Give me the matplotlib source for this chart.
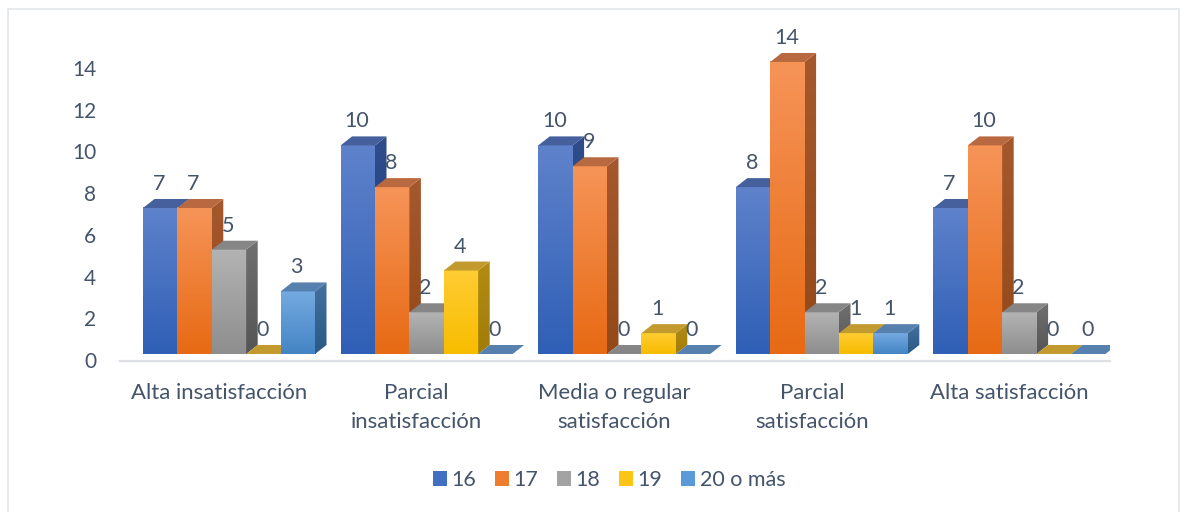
import numpy as np
import matplotlib
matplotlib.use('Agg')
import matplotlib.pyplot as plt
from matplotlib.patches import Polygon, Rectangle
from matplotlib.transforms import ScaledTranslation

plt.rcParams['font.family'] = ['Lato', 'DejaVu Sans']

# Data
categories = ['Alta insatisfacción', 'Parcial\ninsatisfacción', 'Media o regular\nsatisfacción',
              'Parcial\nsatisfacción', 'Alta satisfacción']
series_names = ['16', '17', '18', '19', '20 o más']
v16 = [7, 10, 10, 8, 7]
v17 = [7, 8, 9, 14, 10]
v18 = [5, 2, 0, 2, 2]
v19 = [0, 4, 1, 1, 0]
v20 = [3, 0, 0, 1, 0]
y_ticks = [0, 2, 4, 6, 8, 10, 12, 14]

# Colours: front top, front bottom, side top, side bottom, top face, legend
palette = [
    ('#5f82cb', '#2f5fb6', '#2f4d8c', '#1f3d75', '#45609c', '#4270c0'),
    ('#f69458', '#e76a14', '#a5582c', '#93491a', '#b9693f', '#ef7d30'),
    ('#b3b3b3', '#8e8e8e', '#707070', '#555555', '#868686', '#a3a3a3'),
    ('#ffcc33', '#f7bd00', '#b28c14', '#a07c08', '#c29a2e', '#fcc414'),
    ('#74aae1', '#4484c4', '#44709e', '#2a5a86', '#5680ad', '#5b9ad6'),
]
text_color = '#44546a'

W, H, DPI = 1191, 512, 100
PX_X = 197.6   # pixels per category
PX_Y = 20.86   # pixels per unit
BAR_W = 34.4 / PX_X
DX = 11.5 / PX_X
DY = 9 / PX_Y
START = -77 / PX_X


def gradient(ax, c_top, c_bottom, extent, clip=None):
    top = np.array(matplotlib.colors.to_rgb(c_top))
    bottom = np.array(matplotlib.colors.to_rgb(c_bottom))
    t = np.linspace(0, 1, 64)[:, None, None]
    img = top[None, None, :] * (1 - t) + bottom[None, None, :] * t
    im = ax.imshow(img, extent=extent, aspect='auto', interpolation='bilinear', zorder=2)
    if clip is not None:
        im.set_clip_path(clip)


def draw_bar(ax, x, h, colors):
    front_top, front_bot, side_top, side_bot, top_face = colors[:5]
    r = x + BAR_W
    if h > 0:
        gradient(ax, front_top, front_bot, (x, r, 0, h))
        side = Polygon([(r, 0), (r + DX, DY), (r + DX, h + DY), (r, h)], closed=True,
                       transform=ax.transData, fc='none', ec='none')
        ax.add_patch(side)
        gradient(ax, side_top, side_bot, (r, r + DX, 0, h + DY), clip=side)
    ax.add_patch(Polygon([(x, h), (x + DX, h + DY), (r + DX, h + DY), (r, h)], closed=True,
                         fc=top_face, ec='none', zorder=2))
    ax.annotate(str(h), (x + BAR_W / 2, h), xytext=(-1, 24), textcoords='offset pixels',
                ha='center', va='center', fontsize=15.5, color=text_color, zorder=5)


fig = plt.figure(figsize=(W / DPI, H / DPI), dpi=DPI)
ax = fig.add_axes([120 / W, (H - 354) / H, 990 / W, 334 / H])

all_series = [v16, v17, v18, v19, v20]
for i in range(len(categories)):
    for j, values in enumerate(all_series):
        draw_bar(ax, i + START + j * BAR_W, values[i], palette[j])

ax.set_xlim(-100 / PX_X, 890 / PX_X)
ax.set_ylim(0, 334 / PX_Y)
ax.set_xticks(range(len(categories)))
ax.set_xticklabels([])
ax.set_yticks(y_ticks)
ax.set_yticklabels([str(t) for t in y_ticks])
ax.tick_params(axis='both', length=0, labelsize=15, labelcolor=text_color)
ax.tick_params(axis='y', pad=17)

# category labels need their own line spacing
for i, cat in enumerate(categories):
    ax.annotate(cat, (i, 0), xytext=(-1, -29), textcoords='offset pixels', ha='center', va='top',
                fontsize=15.9, linespacing=1.55, color=text_color, annotation_clip=False)

# value axis labels sit 7 px lower than the bar fronts
shift = ScaledTranslation(0, -6 / DPI, fig.dpi_scale_trans)
for lab in ax.get_yticklabels():
    lab.set_transform(lab.get_transform() + shift)

for name in ['top', 'left', 'right']:
    ax.spines[name].set_visible(False)
ax.spines['bottom'].set_position(('outward', 7 * 72 / DPI))
ax.spines['bottom'].set_color('#dde1e6')
ax.spines['bottom'].set_linewidth(1.6)
ax.patch.set_alpha(0)

handles = [Rectangle((0, 0), 1, 1, fc=c[5], ec='none') for c in palette]
fig.legend(handles, series_names, loc='center', bbox_to_anchor=(609 / W, 1 - 480 / H), ncol=5,
           frameon=False, fontsize=15.5, labelcolor=text_color, handlelength=0.68, handleheight=0.68,
           handletextpad=0.2, columnspacing=0.85)

# chart frame
fig.add_artist(Rectangle((8 / W, -0.02), 1171 / W, 1.02 - 9 / H, transform=fig.transFigure,
                         fc='none', ec='#e3e6ea', lw=1.2))

fig.savefig('out.png', dpi=DPI)
